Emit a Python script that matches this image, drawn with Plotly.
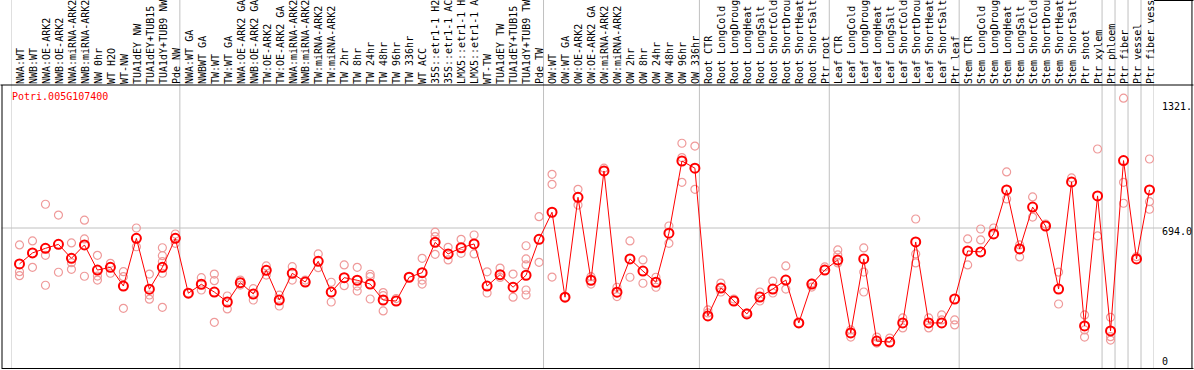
import plotly.graph_objects as go
import numpy as np

group1 = ["NWA:WT", "NWB:WT", "NWA:OE-ARK2", "NWB:OE-ARK2", "NWA:miRNA-ARK2", "NWB:miRNA-ARK2",
          "NW 0hr", "WT H2O", "WT-NW", "TUA1dEY NW", "TUA1dEY+TUB15 NW", "TUA1dY+TUB9 NW", "Pde NW"]
group2 = ["NWA:WT GA", "NWBWT GA", "TW:WT", "TW:WT GA", "NWA:OE-ARK2 GA", "NWB:OE-ARK2 GA",
          "TW:OE-ARK2", "TW:OE-ARK2 GA", "NWA:miRNA-ARK2", "NWB:miRNA-ARK2", "TW:miRNA-ARK2",
          "TW:miRNA-ARK2", "TW 2hr", "TW 8hr", "TW 24hr", "TW 48hr", "TW 96hr", "TW 336hr", "WT ACC",
          "35S::etr1-1 H2O", "35S::etr1-1 ACC", "LMX5::etr1-1 H2O", "LMX5::etr1-1 ACC", "WT-TW",
          "TUA1dEY TW", "TUA1dEY+TUB15 TW", "TUA1dY+TUB9 TW", "Pde TW"]
group3 = ["OW:WT", "OW:WT GA", "OW:OE-ARK2", "OW:OE-ARK2 GA", "OW:miRNA-ARK2", "OW:miRNA-ARK2",
          "OW 2hr", "OW 8hr", "OW 24hr", "OW 48hr", "OW 96hr", "OW 336hr"]
group4 = ["Root CTR", "Root LongCold", "Root LongDrought", "Root LongHeat", "Root LongSalt",
          "Root ShortCold", "Root ShortDrought", "Root ShortHeat", "Root ShortSalt", "Ptr root"]
group5 = ["Leaf CTR", "Leaf LongCold", "Leaf LongDrought", "Leaf LongHeat", "Leaf LongSalt",
          "Leaf ShortCold", "Leaf ShortDrought", "Leaf ShortHeat", "Leaf ShortSalt", "Ptr leaf"]
group6 = ["Stem CTR", "Stem LongCold", "Stem LongDrought", "Stem LongHeat", "Stem LongSalt",
          "Stem ShortCold", "Stem ShortDrought", "Stem ShortHeat", "Stem ShortSalt", "Ptr shoot", "Ptr xylem"]
group7 = ["Ptr phloem"]
group8 = ["Ptr fiber"]
group9 = ["Ptr vessel"]
group10 = ["Ptr fiber vessel"]
groups = [group1, group2, group3, group4, group5, group6, group7, group8, group9, group10]

mean_values = [
    514, 569, 592, 612, 542, 609, 483, 497, 403, 642, 387, 497, 642,
    367, 412, 373, 323, 420, 363, 482, 333, 467, 423, 527, 373, 445, 432, 413, 333, 328, 447, 470,
    622, 564, 595, 614, 403, 460, 397, 457, 637,
    773, 347, 848, 432, 980, 372, 539, 478, 422, 668, 1030, 994,
    253, 393, 328, 263, 348, 388, 433, 218, 413, 483,
    534, 168, 539, 127, 122, 218, 624, 218, 218, 338,
    579, 574, 664, 885, 589, 799, 704, 388, 925, 203, 855,
    178, 1032, 539, 885,
]

replicate_values = [
    [609, 475, 455], [629, 497], [813, 557, 407], [759, 472], [619, 520, 487], [733, 639, 452],
    [557, 453, 433], [517, 467], [475, 450, 291], [694, 600], [463, 358, 337],
    [595, 555, 525, 467, 296], [664, 617],
    [367], [445, 383], [463, 430, 221], [353, 288], [433, 408], [390, 333], [504, 458], [357, 303],
    [500, 433], [433], [564, 495], [422, 323], [509, 405], [497, 403, 378], [462, 450, 338],
    [370, 355, 278], [340], [447], [542, 433, 413], [673, 651, 562], [597, 534], [637, 567],
    [659, 564], [474, 368], [493, 446], [463, 347], [605, 539, 509, 383, 358], [751, 522],
    [963, 913, 448], [347], [888, 809], [450, 413], [994], [397, 350], [629, 447], [534, 417],
    [447, 397], [704, 617], [1119, 1047, 923], [1105, 888],
    [268, 283], [418, 373], [338], [268], [373, 328], [428, 368], [504, 388], [218], [398, 418], [499],
    [584, 559, 519], [183, 147], [594, 473, 373], [147, 117], [142], [243, 193], [739, 564, 519],
    [243, 193], [258, 233], [233, 208],
    [639, 509], [689, 634], [694], [975, 840], [609, 549], [850, 749], [714], [473, 313], [945],
    [258, 183, 147], [1090, 654],
    [246, 149, 132], [1345, 923, 818], [550], [1040, 826, 788],
]

gene_name = "Potri.005G107400"
axis_tick_values = [1321, 694, 0]
axis_tick_labels = ["1321.", "694.0", "0"]

labels = [lab for g in groups for lab in g]
xs = np.arange(len(labels))

rep_x = [i for i, reps in enumerate(replicate_values) for _ in reps]
rep_y = [v for reps in replicate_values for v in reps]

W, H = 1194, 370
L, R, T, B = 10.5, 1154.5, 85, 369
pw = R - L
ph = B - T
col_px = pw / len(labels)
mark_shift = 2.0 / col_px  # markers sit ~2px right of column centre

def px_x(p):
    return (p - L) / pw

def px_y(p):
    return (B - p) / ph

FONT = "DejaVu Sans Mono"

fig = go.Figure()
fig.add_trace(go.Scatter(
    x=rep_x, y=rep_y, mode="markers", xaxis="x2",
    marker=dict(symbol="circle-open", size=8, color="#ef9a9a", line=dict(width=1.2, color="#ef9a9a")),
    hoverinfo="skip", showlegend=False, cliponaxis=False,
))
fig.add_trace(go.Scatter(
    x=xs, y=mean_values, mode="lines+markers", xaxis="x2",
    line=dict(color="#ff0000", width=1),
    marker=dict(symbol="circle-open", size=9, color="#ff0000", line=dict(width=2, color="#ff0000")),
    showlegend=False, cliponaxis=False,
))

shapes = []
boundaries = [-0.5]
pos = -0.5
for g in groups:
    pos += len(g)
    boundaries.append(pos)
for b in boundaries:
    shapes.append(dict(type="line", xref="x", yref="paper", x0=b, x1=b, y0=0, y1=px_y(0),
                       line=dict(color="#c0c0c0", width=1), layer="below"))
shapes.append(dict(type="line", xref="paper", yref="y", x0=px_x(1), x1=px_x(1163),
                   y0=axis_tick_values[1], y1=axis_tick_values[1],
                   line=dict(color="#c0c0c0", width=1), layer="below"))
blk = dict(color="#000000", width=1)
shapes.append(dict(type="line", xref="paper", yref="paper", x0=px_x(0), x1=px_x(W), y0=1, y1=1, line=blk))
shapes.append(dict(type="line", xref="paper", yref="paper", x0=px_x(1.5), x1=px_x(1.5), y0=px_y(B), y1=1, line=blk))
shapes.append(dict(type="line", xref="paper", yref="paper", x0=px_x(1.5), x1=px_x(W), y0=px_y(368.5), y1=px_y(368.5), line=blk))
shapes.append(dict(type="line", xref="paper", yref="paper", x0=px_x(1192.5), x1=px_x(1192.5), y0=px_y(B), y1=px_y(0), line=blk))
shapes.append(dict(type="line", xref="paper", yref="paper", x0=px_x(R), x1=px_x(W), y0=px_y(0.5), y1=px_y(0.5), line=blk))

annotations = [dict(text=gene_name, xref="paper", yref="paper", x=px_x(9), y=px_y(89),
                    xanchor="left", yanchor="top", showarrow=False,
                    font=dict(family=FONT, size=10, color="#ff0000"))]
label_shift = {1321: 3, 694: 3, 0: -2}
for v, t in zip(axis_tick_values, axis_tick_labels):
    annotations.append(dict(text=t, xref="paper", yref="y", x=px_x(1162), y=v,
                            xanchor="left", yanchor="bottom" if v == 0 else "top", showarrow=False,
                            yshift=label_shift[v],
                            font=dict(family=FONT, size=10, color="#000000"), borderpad=0))

xr = [-0.5, len(labels) - 0.5]
fig.update_layout(
    width=W, height=H,
    margin=dict(l=L, r=W - R, t=T, b=H - B, pad=0, autoexpand=False),
    paper_bgcolor="white", plot_bgcolor="white",
    xaxis=dict(range=xr, side="top", tickmode="array", tickvals=xs, ticktext=labels,
               tickangle=-90, ticks="", showgrid=False, zeroline=False, showline=False, automargin=False,
               ticklabelshift=3,
               tickfont=dict(family=FONT, size=10, color="#000000"), fixedrange=True),
    xaxis2=dict(range=[xr[0] - mark_shift, xr[1] - mark_shift], overlaying="x", visible=False,
                fixedrange=True),
    yaxis=dict(range=[-13, 1411], showticklabels=False, ticks="", showgrid=False, zeroline=False,
               showline=False, fixedrange=True, automargin=False),
    shapes=shapes, annotations=annotations,
    showlegend=False,
)

fig.write_html("out.html", config={"displayModeBar": False, "staticPlot": False},
               post_script="document.body.style.margin='0';document.body.style.padding='0';")
